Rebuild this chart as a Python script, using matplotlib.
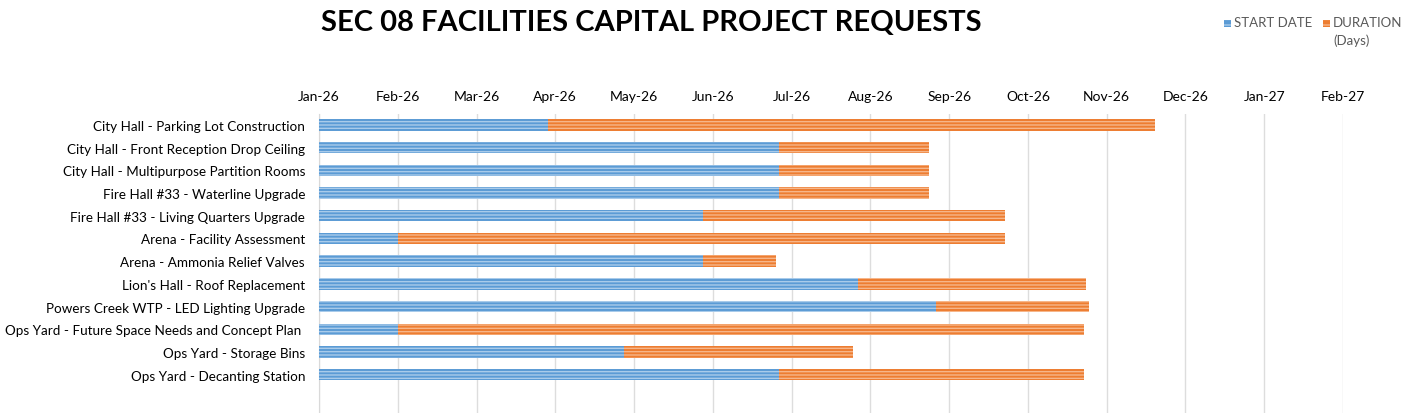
import matplotlib
matplotlib.use("Agg")
import matplotlib.pyplot as plt
import matplotlib.dates as mdates
from matplotlib.patches import Rectangle
from datetime import date

plt.rcParams['font.family'] = ['Lato', 'DejaVu Sans']
plt.rcParams['hatch.linewidth'] = 1.0

projects = [
    "City Hall - Parking Lot Construction",
    "City Hall - Front Reception Drop Ceiling",
    "City Hall - Multipurpose Partition Rooms",
    "Fire Hall #33 - Waterline Upgrade",
    "Fire Hall #33 - Living Quarters Upgrade",
    "Arena - Facility Assessment",
    "Arena - Ammonia Relief Valves",
    "Lion's Hall - Roof Replacement",
    "Powers Creek WTP - LED Lighting Upgrade",
    "Ops Yard - Future Space Needs and Concept Plan ",
    "Ops Yard - Storage Bins",
    "Ops Yard - Decanting Station",
]
start_dates = [
    "2026-04-01", "2026-07-01", "2026-07-01", "2026-07-01",
    "2026-06-01", "2026-02-01", "2026-06-01", "2026-08-01",
    "2026-09-01", "2026-02-01", "2026-05-01", "2026-07-01",
]
duration_days = [239, 59, 59, 59, 119, 239, 29, 90, 60, 270, 90, 120]
legend_labels = ["START DATE", "DURATION\n(Days)"]

axis_start = date(2026, 1, 1)
tick_step_days = 31
n_ticks = 14

starts = [mdates.date2num(date.fromisoformat(s)) for s in start_dates]
x0 = mdates.date2num(axis_start)
ticks = [x0 + i * tick_step_days for i in range(n_ticks)]
tick_labels = [mdates.num2date(t).strftime("%b-%y") for t in ticks]

W, H = 1427, 414
fig = plt.figure(figsize=(W / 100, H / 100), dpi=100)
top_px = 114.6
pitch = 22.7
ax = fig.add_axes([319 / W, 0, (1343 - 319) / W, 1 - top_px / H])

ypos = list(range(len(projects)))
blue = '#5B9BD5'
orange = '#ED7D31'
blue_hatch = '#A9CBEA'
orange_hatch = '#F6B68A'
ax.barh(ypos, [s - x0 for s in starts], left=x0, height=0.5, color=blue,
        edgecolor=blue_hatch, linewidth=0, hatch='-----', label=legend_labels[0], zorder=3)
ax.barh(ypos, duration_days, left=starts, height=0.5, color=orange,
        edgecolor=orange_hatch, linewidth=0, hatch='-----', label=legend_labels[1], zorder=3)

bottom_units = (H - top_px) / pitch - 0.5
ax.set_ylim(bottom_units, -0.5)
ax.set_xlim(ticks[0], ticks[-1])
ax.set_yticks(ypos)
ax.set_yticklabels(projects, fontsize=9.7, color='#000000')
ax.set_xticks(ticks)
ax.set_xticklabels(tick_labels, fontsize=10, color='#000000')
ax.xaxis.tick_top()
ax.tick_params(axis='x', length=0, pad=8)
ax.tick_params(axis='y', length=0, pad=10)
ax.grid(axis='x', color='#DDDDDD', linewidth=1, zorder=0)
for side in ['top', 'right', 'bottom']:
    ax.spines[side].set_visible(False)
ax.spines['left'].set_color('#D9D9D9')

fig.text(651 / W, 1 - 23 / H, "SEC 08 FACILITIES CAPITAL PROJECT REQUESTS",
         ha='center', va='center', fontsize=21, fontweight='bold', color='#000000')

# legend (drawn in figure pixel positions)
leg_items = [(1224, blue, blue_hatch), (1323, orange, orange_hatch)]
for (xp, fc, hc), lab in zip(leg_items, legend_labels):
    fig.patches.append(Rectangle((xp / W, 1 - 28 / H), 7 / W, 7 / H, facecolor=fc,
                                 edgecolor=hc, hatch='---', linewidth=0,
                                 transform=fig.transFigure, figure=fig))
    fig.text((xp + 10) / W, 1 - 17 / H, lab, ha='left', va='top', fontsize=9.5,
             color='#595959', linespacing=1.5)

fig.savefig('out.png', dpi=100, facecolor='white')
